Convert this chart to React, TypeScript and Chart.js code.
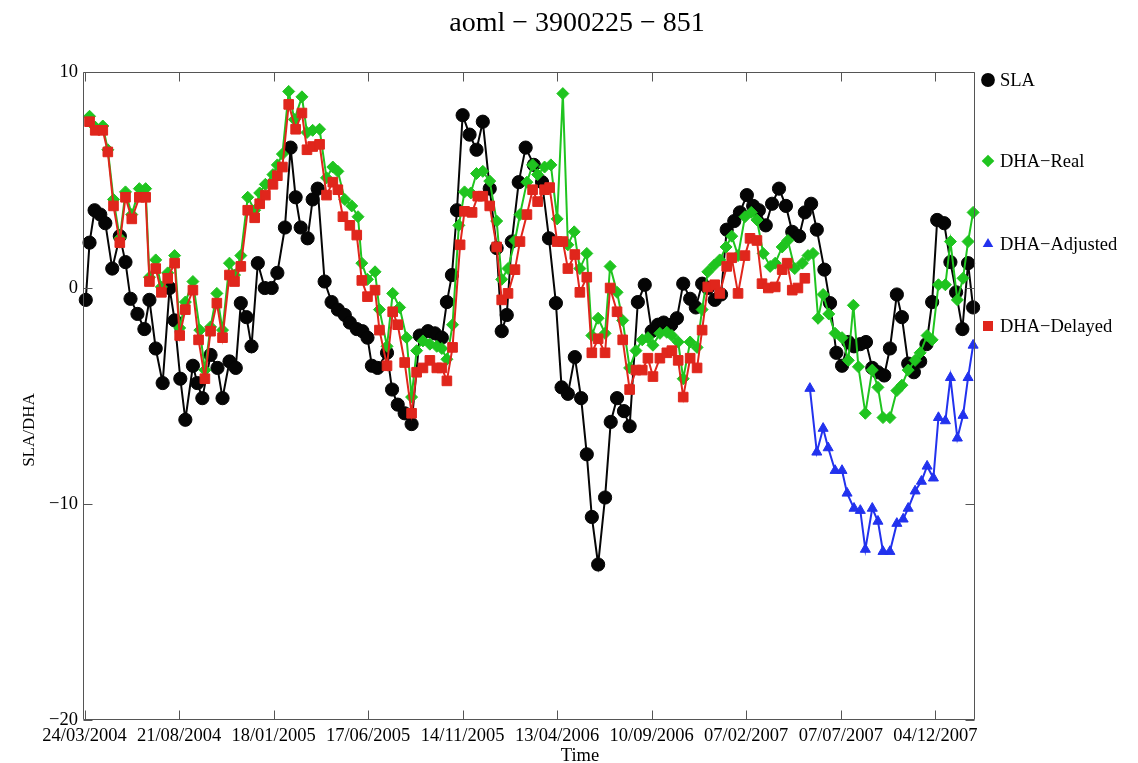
import React, { useEffect, useRef } from 'react';
import { Chart, registerables } from 'chart.js';

Chart.register(...registerables);

// ---------- texts ----------
const TITLE = 'aoml \u2212 3900225 \u2212 851';
const X_TITLE = 'Time';
const Y_TITLE = 'SLA/DHA';
const SERIES_LABELS = ['SLA', 'DHA\u2212Real', 'DHA\u2212Adjusted', 'DHA\u2212Delayed'];

// ---------- axes (days since 24/03/2004) ----------
const X_MIN = -2.4;
const X_MAX = 1413;
const Y_MIN = -20;
const Y_MAX = 10;
const xTickDays = [0, 150, 300, 450, 600, 750, 900, 1050, 1200, 1350];
const xTickLabels = ['24/03/2004', '21/08/2004', '18/01/2005', '17/06/2005', '14/11/2005', '13/04/2006', '10/09/2006', '07/02/2007', '07/07/2007', '04/12/2007'];
const yTickValues = [-20, -10, 0, 10];
const yTickLabels = ['\u221220', '\u221210', '0', '10'];

// ---------- SLA ----------
const slaDays = [2, 8, 16, 25, 33, 44, 56, 65, 73, 84,
  95, 103, 113, 124, 135, 143, 152, 160, 172, 179,
  187, 200, 211, 219, 230, 240, 248, 257, 265, 275,
  286, 297, 306, 318, 327, 335, 343, 354, 362, 370,
  381, 392, 402, 413, 421, 432, 441, 449, 456, 465,
  480, 488, 497, 508, 519, 532, 545, 556, 567, 575,
  583, 591, 600, 611, 622, 632, 643, 654, 662, 670,
  678, 689, 700, 713, 726, 737, 748, 757, 767, 778,
  788, 797, 805, 815, 826, 835, 845, 856, 865, 878,
  889, 900, 910, 919, 931, 940, 950, 961, 970, 980,
  989, 1000, 1010, 1019, 1031, 1040, 1051, 1061, 1070, 1081,
  1091, 1102, 1113, 1123, 1134, 1143, 1153, 1162, 1174, 1183,
  1193, 1202, 1212, 1221, 1231, 1240, 1250, 1259, 1269, 1278,
  1289, 1297, 1307, 1316, 1326, 1336, 1345, 1353, 1364, 1374,
  1383, 1393, 1402, 1410];
const slaValues = [-0.55, 2.1, 3.6, 3.4, 3.0, 0.9, 2.4, 1.2, -0.5, -1.2,
  -1.9, -0.55, -2.8, -4.4, 0.0, -1.5, -4.2, -6.1, -3.6, -4.4,
  -5.1, -3.1, -3.7, -5.1, -3.4, -3.7, -0.7, -1.35, -2.7, 1.15,
  0.0, 0.0, 0.7, 2.8, 6.5, 4.2, 2.8, 2.3, 4.1, 4.6,
  0.3, -0.65, -1.0, -1.25, -1.6, -1.9, -2.0, -2.3, -3.6, -3.7,
  -3.0, -4.7, -5.4, -5.8, -6.3, -2.2, -2.0, -2.1, -2.3, -0.65,
  0.6, 3.6, 8.0, 7.1, 6.4, 7.7, 4.6, 1.85, -2.0, -1.25,
  2.15, 4.9, 6.5, 5.7, 4.9, 2.3, -0.7, -4.6, -4.9, -3.2,
  -5.1, -7.7, -10.6, -12.8, -9.7, -6.2, -5.1, -5.7, -6.4, -0.65,
  0.15, -2.0, -1.7, -1.6, -1.7, -1.4, 0.2, -0.5, -0.9, 0.2,
  0.0, -0.55, -0.3, 2.7, 3.1, 3.5, 4.3, 3.8, 3.6, 2.9,
  3.9, 4.6, 3.8, 2.6, 2.4, 3.5, 3.9, 2.7, 0.85, -0.7,
  -3.0, -3.6, -2.5, -2.7, -2.6, -2.5, -3.7, -3.9, -4.05, -2.8,
  -0.3, -1.35, -3.5, -3.9, -3.4, -2.6, -0.65, 3.15, 3.0, 1.2,
  -0.2, -1.9, 1.15, -0.9];

// ---------- DHA-Real ----------
const realDays = [8, 17, 29, 37, 46, 56, 65, 75, 87, 97,
  103, 113, 122, 132, 143, 151, 160, 172, 183, 191,
  200, 210, 219, 230, 238, 248, 259, 270, 278, 287,
  299, 306, 314, 324, 333, 345, 353, 362, 373, 384,
  394, 402, 413, 424, 434, 440, 449, 461, 468, 480,
  489, 500, 511, 519, 527, 537, 548, 559, 567, 575,
  584, 594, 603, 613, 622, 632, 643, 654, 662, 672,
  683, 691, 702, 711, 719, 730, 740, 750, 759, 767,
  777, 786, 797, 805, 815, 826, 834, 845, 854, 865,
  875, 885, 894, 902, 913, 924, 932, 942, 950, 961,
  972, 980, 989, 999, 1008, 1018, 1027, 1037, 1048, 1058,
  1067, 1077, 1088, 1096, 1107, 1116, 1127, 1139, 1148, 1156,
  1164, 1172, 1181, 1191, 1202, 1212, 1220, 1228, 1239, 1250,
  1259, 1267, 1278, 1289, 1297, 1307, 1318, 1326, 1337, 1345,
  1355, 1366, 1374, 1385, 1394, 1402, 1410];
const realValues = [7.95, 7.45, 7.5, 6.4, 4.1, 2.3, 4.45, 3.4, 4.6, 4.6,
  0.5, 1.3, 0.05, 0.7, 1.5, -1.85, -0.65, 0.3, -1.95, -3.8,
  -1.8, -0.25, -1.95, 1.15, 0.6, 1.5, 4.2, 3.6, 4.4, 4.8,
  5.25, 5.7, 6.2, 9.1, 7.8, 8.85, 7.2, 7.3, 7.35, 5.1,
  5.6, 5.4, 4.1, 3.8, 3.3, 1.15, 0.4, 0.75, -1.0, -2.7,
  -0.25, -0.9, -2.3, -5.05, -2.9, -2.45, -2.6, -2.7, -2.8, -3.3,
  -1.7, 2.9, 4.45, 4.4, 5.3, 5.4, 4.95, 3.1, 0.4, 0.9,
  2.2, 3.4, 4.9, 5.7, 5.25, 5.6, 5.7, 3.2, 9.0, 2.0,
  2.6, 0.9, 1.6, -2.2, -1.4, -2.1, 1.0, -0.2, -1.5, -3.7,
  -2.9, -2.4, -2.3, -2.65, -2.1, -2.05, -2.2, -2.5, -4.2, -2.5,
  -2.75, -1.0, 0.75, 1.05, 1.3, 1.9, 2.4, 1.5, 3.3, 3.5,
  3.15, 1.6, 1.0, 1.15, 1.9, 2.2, 0.9, 1.15, 1.5, 1.6,
  -1.4, -0.3, -1.2, -2.1, -2.3, -3.35, -0.8, -3.65, -5.8, -3.8,
  -4.6, -6.0, -6.0, -4.75, -4.5, -3.8, -3.35, -3.0, -2.2, -2.4,
  0.15, 0.15, 2.15, -0.55, 0.45, 2.15, 3.5];

// ---------- DHA-Adjusted ----------
const adjustedDays = [1151, 1162, 1172, 1180, 1191, 1202, 1210, 1221, 1231, 1239,
  1250, 1259, 1267, 1278, 1289, 1299, 1307, 1318, 1328, 1337,
  1347, 1355, 1366, 1374, 1385, 1394, 1402, 1410];
const adjustedValues = [-4.65, -7.6, -6.5, -7.4, -8.45, -8.45, -9.5, -10.2, -10.3, -12.1,
  -10.2, -10.8, -12.2, -12.2, -10.9, -10.7, -10.2, -9.4, -8.95, -8.25,
  -8.8, -6.0, -6.15, -4.15, -6.95, -5.9, -4.15, -2.65];

// ---------- DHA-Delayed ----------
const delayedDays = [8, 17, 29, 37, 46, 56, 65, 75, 87, 97,
  103, 113, 122, 132, 143, 151, 160, 172, 181, 191,
  200, 210, 219, 230, 238, 248, 259, 270, 278, 287,
  299, 306, 314, 324, 335, 345, 353, 362, 373, 384,
  394, 402, 410, 421, 432, 440, 449, 461, 468, 480,
  489, 497, 508, 519, 527, 537, 548, 559, 567, 575,
  584, 596, 603, 615, 624, 632, 643, 654, 662, 672,
  683, 691, 702, 711, 719, 730, 738, 750, 759, 767,
  778, 786, 797, 805, 815, 826, 834, 845, 854, 865,
  875, 885, 894, 902, 913, 924, 932, 942, 950, 961,
  972, 980, 989, 1000, 1008, 1019, 1027, 1037, 1048, 1056,
  1067, 1075, 1085, 1096, 1107, 1115, 1123, 1132, 1143];
const delayedValues = [7.7, 7.3, 7.3, 6.3, 3.8, 2.1, 4.2, 3.2, 4.2, 4.2,
  0.3, 0.9, -0.2, 0.45, 1.15, -2.2, -1.0, -0.1, -2.4, -4.2,
  -2.0, -0.7, -2.3, 0.6, 0.3, 1.0, 3.6, 3.25, 3.9, 4.3,
  4.8, 5.2, 5.6, 8.5, 7.35, 8.1, 6.4, 6.55, 6.65, 4.3,
  4.9, 4.55, 3.3, 2.9, 2.45, 0.35, -0.4, -0.1, -1.95, -3.6,
  -1.1, -1.7, -3.45, -5.8, -3.9, -3.7, -3.35, -3.7, -3.7, -4.3,
  -2.75, 2.0, 3.55, 3.5, 4.25, 4.25, 3.8, 1.9, -0.55, -0.25,
  0.85, 2.15, 3.4, 4.55, 4.0, 4.55, 4.65, 2.15, 2.15, 0.9,
  1.55, -0.2, 0.5, -3.0, -2.35, -3.0, 0, -1.1, -2.4, -4.7,
  -3.8, -3.8, -3.25, -4.1, -3.25, -3.0, -2.9, -3.35, -5.05, -3.25,
  -3.7, -1.95, 0.05, 0.15, -0.25, 1.0, 1.4, -0.25, 1.5, 2.3,
  2.2, 0.2, 0, 0.05, 0.85, 1.15, -0.1, 0, 0.45];

// ---------- styles ----------
const BLACK = '#050505';
const GREEN = '#1fc41f';
const BLUE = '#2232ee';
const RED = '#e0261c';
const AXIS_COLOR = '#555555';
const SERIF = "'Liberation Serif', 'DejaVu Serif', serif";
const TICK_LEN = 9;

const SERIES_STYLES = [
  { color: BLACK, shape: 'circle', radius: 6.6 },
  { color: GREEN, shape: 'rectRot', radius: 6.0 },
  { color: BLUE, shape: 'triangle', radius: 5.8 },
  { color: RED, shape: 'rect', radius: 6.8 },
];
const LEGEND_Y = [80, 161, 244, 326];

const toPoints = (days: number[], vals: number[]) => days.map((d, i) => ({ x: d, y: vals[i] }));

function drawMarker(ctx: CanvasRenderingContext2D, shape: string, x: number, y: number, r: number) {
  ctx.beginPath();
  if (shape === 'circle') {
    ctx.arc(x, y, r, 0, Math.PI * 2);
  } else if (shape === 'rectRot') {
    ctx.moveTo(x - r, y); ctx.lineTo(x, y - r); ctx.lineTo(x + r, y); ctx.lineTo(x, y + r);
    ctx.closePath();
  } else if (shape === 'triangle') {
    for (let k = 0; k < 3; k++) {
      const a = -Math.PI / 2 + (k * 2 * Math.PI) / 3;
      const px = x + r * Math.cos(a);
      const py = y + r * Math.sin(a);
      if (k === 0) ctx.moveTo(px, py); else ctx.lineTo(px, py);
    }
    ctx.closePath();
  } else {
    const s = r * Math.SQRT1_2;
    ctx.rect(x - s, y - s, 2 * s, 2 * s);
  }
  ctx.fill();
}

const decorPlugin = {
  id: 'decor',
  afterDraw(chart: any) {
    const { ctx, chartArea: a, scales } = chart;
    ctx.save();
    // frame
    ctx.strokeStyle = AXIS_COLOR;
    ctx.lineWidth = 1;
    const L = Math.round(a.left) + 0.5, R = Math.round(a.right) - 0.5;
    const T = Math.round(a.top) + 0.5, B = Math.round(a.bottom) - 0.5;
    ctx.beginPath();
    ctx.moveTo(L, T); ctx.lineTo(R, T); ctx.lineTo(R, B); ctx.lineTo(L, B); ctx.closePath();
    for (const d of xTickDays) {
      const x = Math.round(scales.x.getPixelForValue(d)) + 0.5;
      ctx.moveTo(x, B); ctx.lineTo(x, B - TICK_LEN);
      ctx.moveTo(x, T); ctx.lineTo(x, T + TICK_LEN);
    }
    for (const v of yTickValues) {
      const y = Math.round(scales.y.getPixelForValue(v)) + 0.5;
      ctx.moveTo(L, y); ctx.lineTo(L + TICK_LEN, y);
      ctx.moveTo(R, y); ctx.lineTo(R - TICK_LEN, y);
    }
    ctx.stroke();

    // title & axis titles
    ctx.fillStyle = '#000';
    ctx.textAlign = 'center';
    ctx.textBaseline = 'alphabetic';
    ctx.font = `28px ${SERIF}`;
    ctx.fillText(TITLE, 577, 31);
    ctx.font = `18.5px ${SERIF}`;
    ctx.fillText(X_TITLE, 580, 761);
    ctx.save();
    ctx.translate(34, 430);
    ctx.rotate(-Math.PI / 2);
    ctx.font = `17px ${SERIF}`;
    ctx.fillText(Y_TITLE, 0, 0);
    ctx.restore();

    // legend
    ctx.textAlign = 'left';
    ctx.textBaseline = 'middle';
    ctx.font = `18.5px ${SERIF}`;
    SERIES_LABELS.forEach((label, i) => {
      const st = SERIES_STYLES[i];
      ctx.fillStyle = st.color;
      drawMarker(ctx, st.shape, 988, LEGEND_Y[i], st.radius + 0.3);
      ctx.fillStyle = '#000';
      ctx.fillText(label, 1000, LEGEND_Y[i] + 1);
    });
    ctx.restore();
  },
};

export default function App() {
  const canvasRef = useRef<HTMLCanvasElement | null>(null);

  useEffect(() => {
    if (!canvasRef.current) return;
    const series = [
      toPoints(slaDays, slaValues),
      toPoints(realDays, realValues),
      toPoints(adjustedDays, adjustedValues),
      toPoints(delayedDays, delayedValues),
    ];
    const drawOrder = [4, 3, 2, 1];
    const datasets = series.map((pts, i) => ({
      label: SERIES_LABELS[i],
      data: pts,
      borderColor: SERIES_STYLES[i].color,
      backgroundColor: SERIES_STYLES[i].color,
      pointBackgroundColor: SERIES_STYLES[i].color,
      pointBorderColor: SERIES_STYLES[i].color,
      pointStyle: SERIES_STYLES[i].shape,
      pointRadius: SERIES_STYLES[i].radius,
      pointBorderWidth: 1,
      borderWidth: 2,
      tension: 0,
      fill: false,
      clip: 8,
      order: drawOrder[i],
    }));

    const chart = new Chart(canvasRef.current, {
      type: 'line',
      data: { datasets } as any,
      options: {
        animation: false,
        responsive: false,
        maintainAspectRatio: false,
        events: [],
        layout: { padding: { left: 0, right: 163, top: 72, bottom: 0 } },
        plugins: {
          legend: { display: false },
          tooltip: { enabled: false },
          title: { display: false },
        },
        scales: {
          x: {
            type: 'linear',
            min: X_MIN,
            max: X_MAX,
            afterBuildTicks: (s: any) => { s.ticks = xTickDays.map((v) => ({ value: v })); },
            afterFit: (s: any) => { s.height = 43; },
            grid: { display: false, drawTicks: false },
            border: { display: false },
            ticks: {
              autoSkip: false,
              maxRotation: 0,
              padding: 5,
              color: '#000',
              font: { family: SERIF, size: 18.5 },
              callback: (v: any) => xTickLabels[xTickDays.indexOf(Number(v))] ?? '',
            },
          },
          y: {
            type: 'linear',
            min: Y_MIN,
            max: Y_MAX,
            afterBuildTicks: (s: any) => { s.ticks = yTickValues.map((v) => ({ value: v })); },
            afterFit: (s: any) => { s.width = 83; },
            grid: { display: false, drawTicks: false },
            border: { display: false },
            ticks: {
              padding: 5,
              color: '#000',
              font: { family: SERIF, size: 18.5 },
              callback: (v: any) => yTickLabels[yTickValues.indexOf(Number(v))] ?? '',
            },
          },
        },
      } as any,
      plugins: [decorPlugin],
    });
    return () => chart.destroy();
  }, []);

  return (
    <div style={{ position: 'absolute', left: 0, top: 0, width: 1138, height: 763, background: '#fff' }}>
      <canvas ref={canvasRef} width={1138} height={763} style={{ display: 'block', width: 1138, height: 763 }} />
    </div>
  );
}
